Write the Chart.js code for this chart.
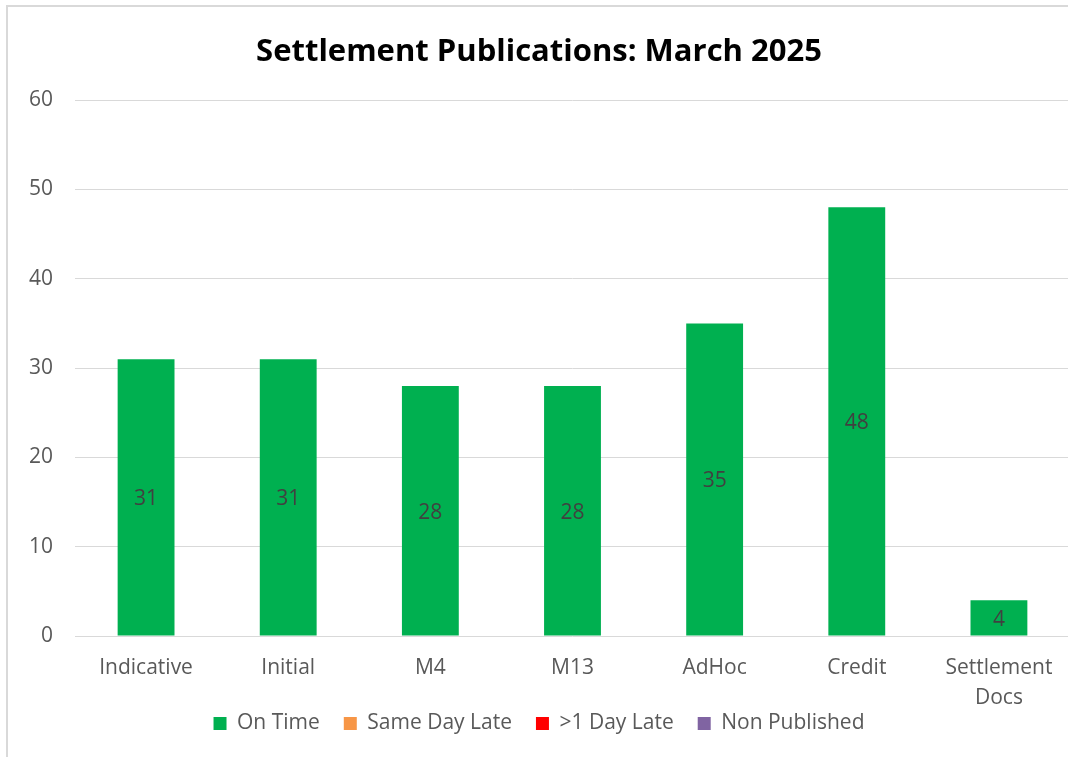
<!DOCTYPE html>
<html>
<head>
<meta charset="utf-8">
<script src="https://cdn.jsdelivr.net/npm/chart.js@4"></script>
<style>
  body { margin: 0; background: #fff; overflow: hidden; }
  #box {
    position: absolute; left: 6px; top: 5px;
    width: 1062px; height: 752px;
    border: 2px solid #d9d9d9; background: #fff;
  }
</style>
</head>
<body>
<div id="box"><canvas id="chart" width="1062" height="752"></canvas></div>
<script>
const categories = ['Indicative', 'Initial', 'M4', 'M13', 'AdHoc', 'Credit', ['Settlement', 'Docs']]
const onTime = [31, 31, 28, 28, 35, 48, 4]
const sameDayLate = [0, 0, 0, 0, 0, 0, 0]
const dayLate = [0, 0, 0, 0, 0, 0, 0]
const nonPublished = [0, 0, 0, 0, 0, 0, 0]

const font = "'Open Sans', sans-serif"

// draws the value in the middle of each bar
const barValues = {
  id: 'barValues',
  // let the two-line category label run past the axis box (legend sits close under it)
  beforeDraw(chart) {
    chart.scales.x.bottom = chart.height
  },
  afterDatasetsDraw(chart) {
    const ctx = chart.ctx
    ctx.save()
    ctx.font = '21px ' + font
    ctx.fillStyle = '#404040'
    ctx.textAlign = 'center'
    ctx.textBaseline = 'middle'
    chart.data.datasets.forEach((ds, i) => {
      chart.getDatasetMeta(i).data.forEach((bar, j) => {
        if (!ds.data[j]) return
        ctx.fillText(ds.data[j], bar.x, (bar.y + bar.base) / 2 + 2)
      })
    })
    ctx.restore()
  }
}

const ds = (label, data, color) => ({
  label: label,
  data: data,
  backgroundColor: color,
  borderWidth: 0,
  barPercentage: 0.4,
  categoryPercentage: 1
})

new Chart(document.getElementById('chart'), {
  type: 'bar',
  data: {
    labels: categories,
    datasets: [
      ds('On Time', onTime, '#00B050'),
      ds('Same Day Late', sameDayLate, '#F79646'),
      ds('>1 Day Late', dayLate, '#FF0000'),
      ds('Non Published', nonPublished, '#8064A2')
    ]
  },
  options: {
    responsive: false,
    animation: false,
    layout: { padding: { left: 0, right: 0, bottom: 15 } },
    plugins: {
      title: {
        display: true,
        text: 'Settlement Publications: March 2025',
        color: '#000',
        font: { family: font, size: 31, weight: 'bold' },
        padding: { top: 27, bottom: 29 }
      },
      legend: {
        position: 'bottom',
        labels: {
          color: '#595959',
          font: { family: font, size: 21 },
          boxWidth: 13,
          boxHeight: 13,
          padding: 24
        }
      },
      tooltip: { enabled: false }
    },
    scales: {
      x: {
        stacked: true,
        afterFit(scale) { scale.height = 53 },
        grid: { display: false },
        border: { display: false },
        ticks: { color: '#595959', font: { family: font, size: 21, lineHeight: 1.43 }, padding: 9 }
      },
      y: {
        stacked: true,
        min: 0,
        max: 60,
        afterFit(scale) { scale.width = 67 },
        grid: { color: '#d9d9d9', drawTicks: false },
        border: { display: false },
        ticks: { stepSize: 10, color: '#595959', font: { family: font, size: 21 }, padding: 22 }
      }
    }
  },
  plugins: [barValues]
})
</script>
</body>
</html>
